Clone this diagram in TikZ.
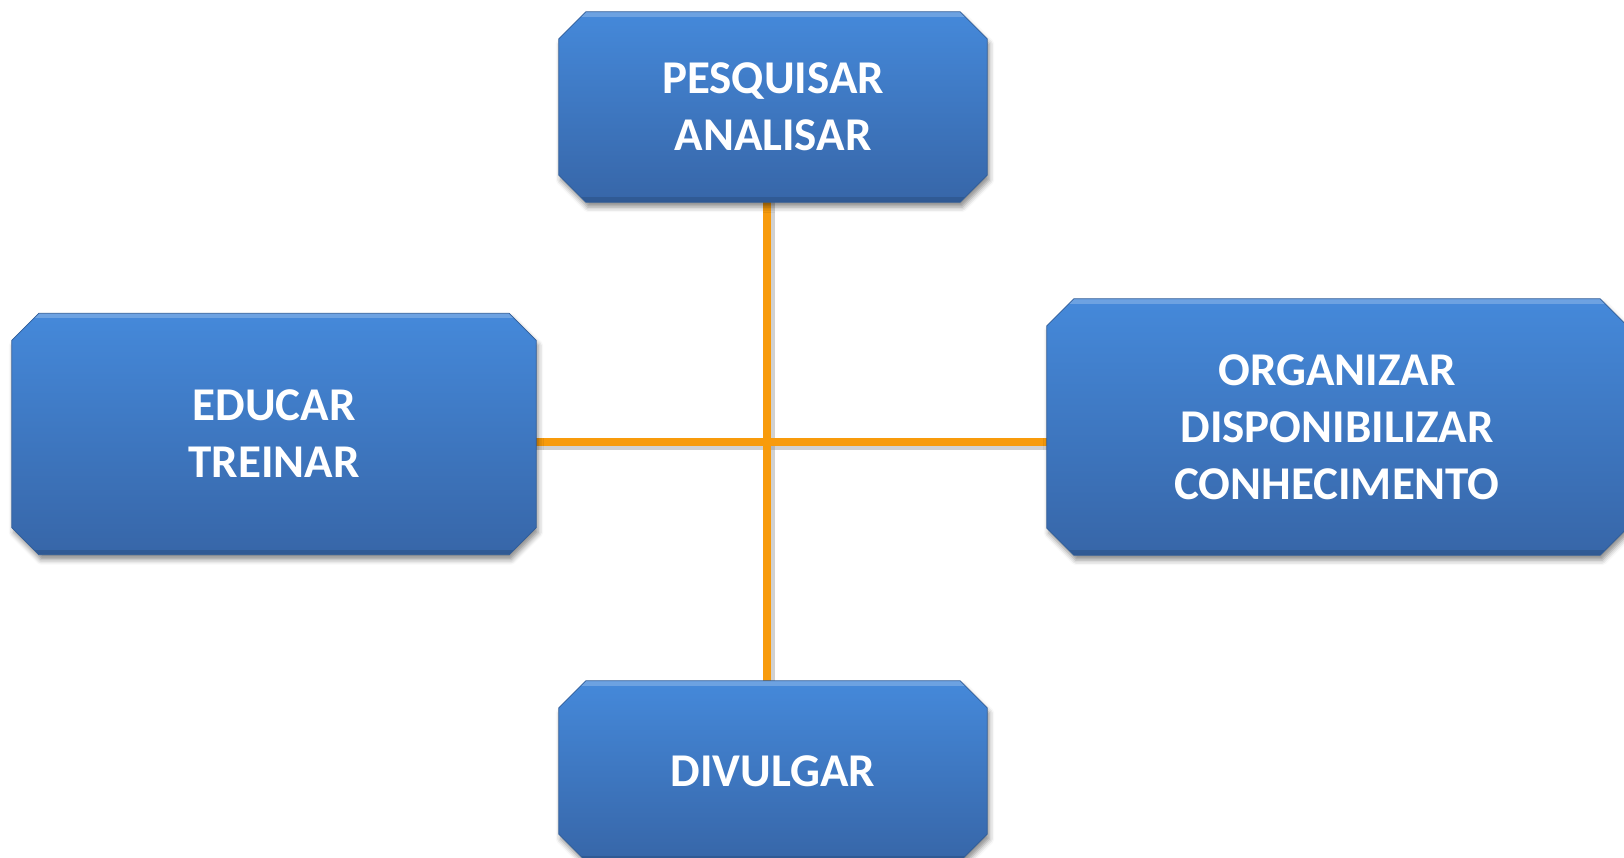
\documentclass[tikz,border=0pt]{standalone}
\usepackage{fontspec}
\setmainfont{Carlito}
\usetikzlibrary{shadows.blur}
\pgfdeclarelayer{bg}
\pgfdeclarelayer{boxes}
\pgfsetlayers{bg,boxes,main}
\definecolor{boxtop}{HTML}{4589DA}
\definecolor{boxbot}{HTML}{3766A8}
\definecolor{boxedge}{HTML}{2F5C98}
\definecolor{linkor}{HTML}{F89B0C}
\newcommand\chambox[1]{%
  \path[boxfill] ([xshift=27pt]#1.north west) -- ([xshift=-27pt]#1.north east)
    -- ([yshift=-27pt]#1.north east) -- ([yshift=27pt]#1.south east)
    -- ([xshift=-27pt]#1.south east) -- ([xshift=27pt]#1.south west)
    -- ([yshift=27pt]#1.south west) -- ([yshift=-27pt]#1.north west) -- cycle;}
\begin{document}
\begin{tikzpicture}[x=1pt,y=-1pt,
  stagebox/.style={rectangle, inner sep=0pt,
    text=white, align=center, font=\bfseries\fontsize{47}{57}\selectfont},
  boxfill/.style={top color=boxtop, bottom color=boxbot, draw=boxedge, line width=0.8pt,
    blur shadow={shadow xshift=2pt, shadow yshift=-5pt, shadow blur radius=5pt, shadow opacity=45},
    path picture={
      \fill[white,opacity=0.22] (path picture bounding box.north west) rectangle ([yshift=-5pt]path picture bounding box.north east);
      \fill[black,opacity=0.12] (path picture bounding box.south west) rectangle ([yshift=5pt]path picture bounding box.south east);
    }},
  linkline/.style={draw=linkor, line width=7.5pt},
  linkshade/.style={draw=black!45, line width=6pt, opacity=0.4}]
\useasboundingbox (0,0) rectangle (1624,858);
\node[stagebox, minimum width=428pt, minimum height=190pt] (top) at (773,107) {PESQUISAR\\ANALISAR};
\node[stagebox, minimum width=524pt, minimum height=241pt] (left) at (274,434) {EDUCAR\\TREINAR};
\node[stagebox, minimum width=580pt, minimum height=256pt] (right) at (1337,427) {ORGANIZAR\\DISPONIBILIZAR\\CONHECIMENTO};
\node[stagebox, minimum width=428pt, minimum height=180pt] (bot) at (773,771) {DIVULGAR};
\coordinate (hub) at (767,442);
\begin{pgfonlayer}{boxes}
  \chambox{top}
  \chambox{left}
  \chambox{right}
  \chambox{bot}
\end{pgfonlayer}
\begin{pgfonlayer}{bg}
  \draw[linkshade] ([xshift=5pt]top.south -| hub) -- ([xshift=5pt]bot.north -| hub);
  \draw[linkshade] ([yshift=-5pt]left.east |- hub) -- ([yshift=-5pt]right.west |- hub);
  \draw[linkline] (left.east |- hub) -- (right.west |- hub);
  \draw[linkline] (top.south -| hub) -- (bot.north -| hub);
\end{pgfonlayer}
\end{tikzpicture}
\end{document}
